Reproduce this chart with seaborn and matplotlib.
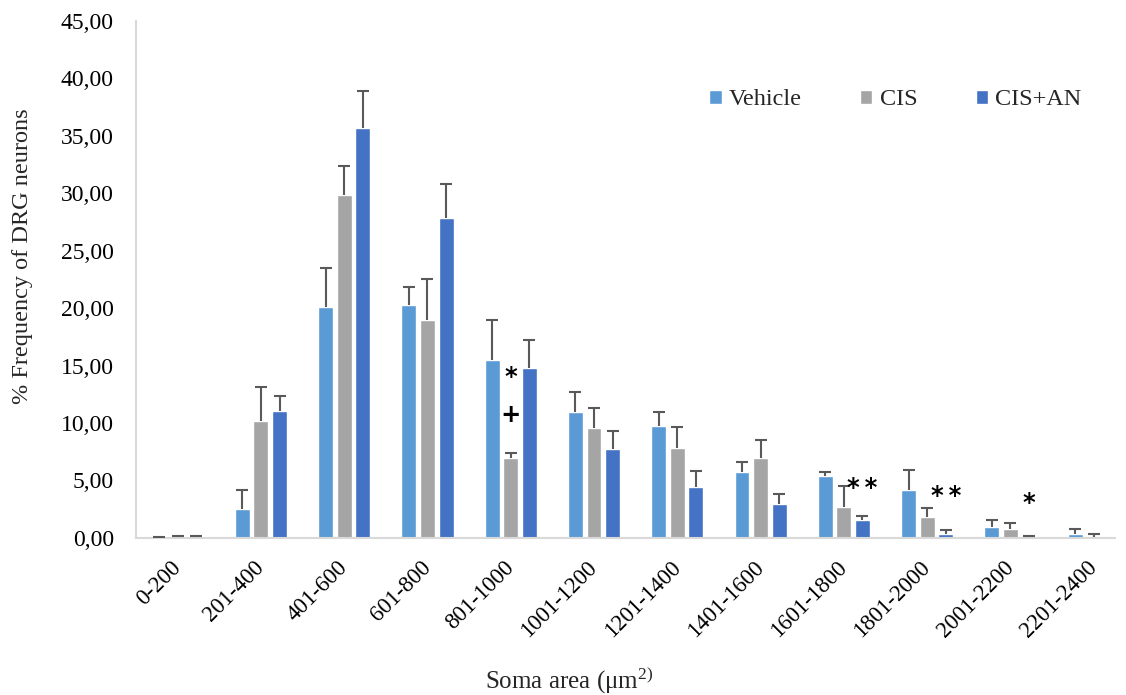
import numpy as np
import pandas as pd
import matplotlib
matplotlib.use("Agg")
import matplotlib.pyplot as plt
from matplotlib.ticker import FuncFormatter, MultipleLocator
import seaborn as sns

# Soma-area bins (µm²)
bins = ["0-200", "201-400", "401-600", "601-800", "801-1000", "1001-1200",
        "1201-1400", "1401-1600", "1601-1800", "1801-2000", "2001-2200", "2201-2400"]
groups = ["Vehicle", "CIS", "CIS+AN"]

# Mean % frequency per bin
vehicle = [0.05, 2.55, 20.1, 20.3, 15.5, 10.95, 9.75, 5.75, 5.35, 4.15, 0.96, 0.38]
cis     = [0.10, 10.2, 29.85, 19.0, 6.95, 9.6, 7.85, 6.95, 2.7, 1.83, 0.81, 0.10]
cis_an  = [0.10, 11.05, 35.7, 27.8, 14.8, 7.75, 4.45, 2.95, 1.57, 0.38, 0.05, 0.02]

# SEM (upper error bars)
vehicle_err = [0.05, 1.65, 3.4, 1.55, 3.5, 1.75, 1.2, 0.85, 0.4, 1.8, 0.58, 0.37]
cis_err     = [0.05, 2.95, 2.5, 3.5, 0.45, 1.7, 1.8, 1.55, 1.8, 0.8, 0.47, 0.25]
cis_an_err  = [0.05, 1.3, 3.2, 3.0, 2.45, 1.55, 1.35, 0.9, 0.35, 0.32, 0.15, 0.0]

# Significance marks: (text, bin index, hue offset in bars, y)
marks = [("*", 4, 0, 14.0), ("+", 4, 0, 10.7),
         ("*\u2009*", 8, 1, 4.35), ("*\u2009*", 9, 1, 3.65), ("*", 10, 1, 3.05)]

colors = {"Vehicle": "#5B9BD5", "CIS": "#A5A5A5", "CIS+AN": "#4472C4"}

df = pd.DataFrame({
    "bin": bins * 3,
    "group": np.repeat(groups, len(bins)),
    "value": vehicle + cis + cis_an,
    "err": vehicle_err + cis_err + cis_an_err,
})

sns.set_theme(style="white")
plt.rcParams["font.family"] = ["Liberation Serif", "DejaVu Serif"]
plt.rcParams["mathtext.fontset"] = "custom"
plt.rcParams["mathtext.rm"] = "Liberation Serif"

fig = plt.figure(figsize=(11.26, 6.95), dpi=100)
ax = fig.add_axes([0.1208, 0.226, 0.869, 0.744])

sns.barplot(data=df, x="bin", y="value", hue="group", order=bins,
            hue_order=groups, palette=colors, width=0.67, gap=0.2,
            errorbar=None, saturation=1, ax=ax)

# upper-only error bars placed on each drawn bar
cap_half = 0.072
for cont, g in zip(ax.containers, groups):
    errs = df[df.group == g].set_index("bin").loc[bins, "err"].to_numpy()
    for bar, e in zip(cont, errs):
        if e <= 0:
            continue
        xc = bar.get_x() + bar.get_width() / 2
        top = bar.get_height() + e
        ax.vlines(xc, bar.get_height(), top, color="#595959", lw=1.5, zorder=3)
        ax.hlines(top, xc - cap_half, xc + cap_half, color="#595959", lw=1.5, zorder=3)

slot = 0.67 / 3
for txt, i, k, y in marks:
    ax.text(i + k * slot, y, txt, ha="center", va="center", fontsize=17.5,
            fontweight="bold", family=["DejaVu Sans"], color="black")

ax.set_ylim(0, 45)
ax.set_xlim(-0.5, 11.25)
ax.yaxis.set_major_locator(MultipleLocator(5))
ax.yaxis.set_major_formatter(FuncFormatter(lambda v, p: f"{v:.2f}".replace(".", ",")))
ax.tick_params(axis="y", length=0, labelsize=17, colors="#000000", pad=16)
ax.tick_params(axis="x", length=0, labelsize=16.5, colors="#000000", pad=19)
for lab in ax.get_xticklabels():
    lab.set_rotation(45)
    lab.set_ha("right")
    lab.set_va("center")
    lab.set_rotation_mode("anchor")

ax.set_ylabel("% Frequency of DRG neurons", fontsize=17.5)
ax.set_xlabel("Soma area (μm$\\mathregular{^{2)}}$", fontsize=18)
ax.yaxis.set_label_coords(-0.105, 0.545)
ax.xaxis.set_label_coords(0.443, -0.247)

for side in ["top", "right"]:
    ax.spines[side].set_visible(False)
for side in ["left", "bottom"]:
    ax.spines[side].set_color("#D9D9D9")
    ax.spines[side].set_linewidth(1.5)

leg = ax.legend(loc="center", bbox_to_anchor=(0.776, 0.847), ncol=3,
                frameon=False, fontsize=17.5, handlelength=0.5, handleheight=0.5,
                handletextpad=0.3, columnspacing=2.4, title=None)

fig.savefig("out.png", dpi=100)
